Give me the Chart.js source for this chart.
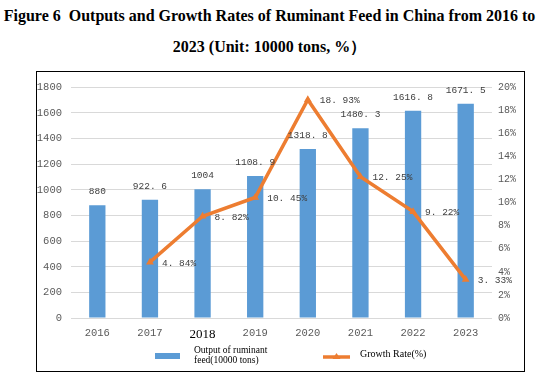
<!DOCTYPE html>
<html>
<head>
<meta charset="utf-8">
<script src="https://cdn.jsdelivr.net/npm/chart.js@4.4.0/dist/chart.umd.min.js"></script>
<style>
  html, body { margin: 0; padding: 0; background: #fff; }
  body { width: 539px; height: 376px; position: relative; overflow: hidden; }
  .title {
    position: absolute; left: 0; top: 0; width: 539px;
    font-family: "Liberation Serif", serif; font-weight: bold; font-size: 16px;
    line-height: 31px; text-align: center; color: #000; white-space: nowrap;
  }
  .box {
    position: absolute; left: 36px; top: 71px; width: 489px; height: 301px;
    box-sizing: border-box; border: 1px solid #000;
  }
  .box canvas { display: block; }
</style>
</head>
<body>
<div class="title">Figure 6&nbsp; Outputs and Growth Rates of Ruminant Feed in China from 2016 to<br>2023 (Unit: 10000 tons, %）</div>
<div class="box"><canvas id="chart" width="487" height="299"></canvas></div>
<script>
  var years = ['2016', '2017', '2018', '2019', '2020', '2021', '2022', '2023'];
  var outputs = [880, 922.6, 1004, 1108.9, 1318.8, 1480.3, 1616.8, 1671.5];
  var growthRates = [null, 4.84, 8.82, 10.45, 18.93, 12.25, 9.22, 3.33];
  var outputLabel = ['Output of ruminant', 'feed(10000 tons)'];
  var rateLabel = 'Growth Rate(%)';

  var BLUE = '#5B9BD5';
  var ORANGE = '#ED7D31';
  var MONO = '"Liberation Mono", monospace';
  var SERIF = '"Liberation Serif", serif';

  // 小数点の後ろに空白を入れる（元図の表示に合わせる）
  function fmt(v) { return String(v).replace('.', '. '); }

  // データラベルと凡例
  var labelsPlugin = {
    id: 'labels',
    afterDatasetsDraw: function(chart) {
      var ctx = chart.ctx;
      ctx.save();
      ctx.fillStyle = '#404040';
      ctx.font = '9.5px ' + MONO;
      ctx.textBaseline = 'middle';

      ctx.textAlign = 'center';
      chart.getDatasetMeta(0).data.forEach(function(el, i) {
        ctx.fillText(fmt(outputs[i]), el.x, el.y - 13.5);
      });

      ctx.textAlign = 'left';
      chart.getDatasetMeta(1).data.forEach(function(el, i) {
        if (growthRates[i] == null) return;
        ctx.fillText(fmt(growthRates[i]) + '%', el.x + 12, el.y + 1);
      });
      ctx.restore();
    },
    afterDraw: function(chart) {
      var ctx = chart.ctx;
      var a = chart.chartArea;
      var y = a.bottom + 38;
      ctx.save();
      // 棒グラフの凡例
      ctx.fillStyle = BLUE;
      ctx.fillRect(a.left + 84, y - 3, 25, 6);
      ctx.fillStyle = '#000';
      ctx.font = '9.5px ' + SERIF;
      ctx.textBaseline = 'middle';
      ctx.textAlign = 'left';
      ctx.fillText(outputLabel[0], a.left + 123, y - 6);
      ctx.fillText(outputLabel[1], a.left + 123, y + 4);
      // 折れ線の凡例
      ctx.strokeStyle = ORANGE;
      ctx.lineWidth = 3.5;
      ctx.beginPath();
      ctx.moveTo(a.left + 252, y + 1);
      ctx.lineTo(a.left + 279, y + 1);
      ctx.stroke();
      ctx.fillStyle = ORANGE;
      ctx.beginPath();
      ctx.moveTo(a.left + 265.5, y - 3);
      ctx.lineTo(a.left + 269.5, y + 3);
      ctx.lineTo(a.left + 261.5, y + 3);
      ctx.closePath();
      ctx.fill();
      ctx.fillStyle = '#000';
      ctx.font = '10px ' + SERIF;
      ctx.fillText(rateLabel, a.left + 289, y - 2);
      ctx.restore();
    }
  };

  new Chart(document.getElementById('chart'), {
    type: 'bar',
    data: {
      labels: years,
      datasets: [{
        type: 'bar',
        label: outputLabel.join(' '),
        data: outputs,
        backgroundColor: BLUE,
        barPercentage: 0.31,
        categoryPercentage: 1,
        yAxisID: 'y',
        order: 1
      }, {
        type: 'line',
        label: rateLabel,
        data: growthRates,
        borderColor: ORANGE,
        backgroundColor: ORANGE,
        borderWidth: 3.5,
        pointStyle: 'triangle',
        pointRadius: 4.5,
        pointBorderWidth: 0,
        tension: 0,
        yAxisID: 'y1',
        order: 0
      }]
    },
    plugins: [labelsPlugin],
    options: {
      responsive: false,
      animation: false,
      layout: { padding: { left: 0, right: 0, top: 12, bottom: 23 } },
      plugins: {
        legend: { display: false },
        tooltip: { enabled: false }
      },
      scales: {
        x: {
          grid: { display: false, drawTicks: false },
          border: { display: false },
          afterFit: function(s) { s.height = 30; },
          ticks: {
            padding: 9,
            color: function(c) { return c.index === 2 ? '#000' : '#595959'; },
            font: function(c) {
              return c.index === 2 ? { family: 'Liberation Serif', size: 13 } : { family: 'Liberation Mono', size: 10.5 };
            }
          }
        },
        y: {
          position: 'left',
          min: 0,
          max: 1800,
          afterFit: function(s) { s.width = 34; },
          grid: { color: '#d9d9d9', lineWidth: 1, drawTicks: false },
          border: { display: false },
          ticks: {
            stepSize: 200, padding: 9, color: '#595959',
            font: { family: 'Liberation Mono', size: 10.5 },
            callback: function(v) { return String(v); }
          }
        },
        y1: {
          position: 'right',
          min: 0,
          max: 20,
          afterFit: function(s) { s.width = 32; },
          grid: { display: false, drawTicks: false },
          border: { display: false },
          ticks: {
            stepSize: 2, padding: 6, color: '#595959',
            font: { family: 'Liberation Mono', size: 10 },
            callback: function(v) { return v + '%'; }
          }
        }
      }
    }
  });
</script>
</body>
</html>
